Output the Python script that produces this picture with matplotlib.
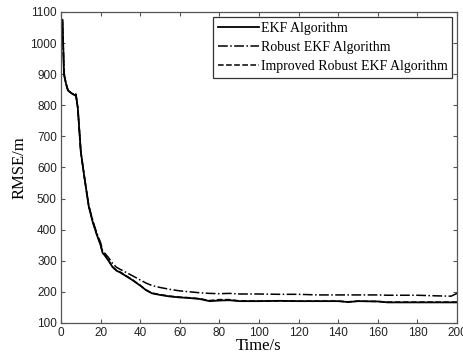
import numpy as np
import matplotlib.pyplot as plt

plt.rcParams['font.family'] = ['Liberation Sans', 'DejaVu Sans']

# time samples (s)
t = [0.7, 1, 1.5, 2.5, 3.5, 5, 7, 7.5, 8.5, 10, 12, 14, 16, 18, 20, 21, 22, 24,
     26, 28, 30, 33, 36, 40, 43, 46, 50, 55, 60, 65, 70, 75, 80, 85, 90, 100,
     110, 120, 130, 140, 145, 150, 160, 165, 170, 180, 190, 197, 200]

ekf = [1075, 1020, 900, 870, 848, 840, 832, 835, 790, 650, 560, 475, 425, 385,
       350, 325, 318, 300, 280, 268, 262, 250, 238, 220, 205, 195, 190, 185,
       182, 180, 177, 170, 172, 173, 170, 170, 171, 170, 170, 170, 167, 170,
       169, 166, 166, 166, 166, 166, 166]

robust = [1075, 1020, 900, 870, 848, 840, 832, 835, 790, 650, 560, 478, 430,
          390, 358, 332, 325, 310, 292, 279, 272, 262, 252, 238, 228, 220, 214,
          208, 203, 200, 197, 195, 194, 195, 193, 193, 192, 192, 190, 190, 190,
          190, 190, 189, 189, 189, 187, 186, 195]

improved = [1075, 1020, 900, 870, 848, 840, 832, 835, 790, 650, 560, 476, 426,
            386, 352, 326, 319, 301, 281, 269, 263, 251, 239, 221, 206, 196,
            191, 186, 183, 181, 178, 172, 175, 175, 171, 170, 171, 170, 170,
            170, 168, 170, 169, 167, 167, 167, 167, 167, 167]

fig = plt.figure(figsize=(4.64, 3.58), dpi=100)
ax = fig.add_axes([0.1315, 0.098, 0.8535, 0.8685])

ax.plot(t, ekf, 'k-', lw=1.3, label='EKF Algorithm')
ax.plot(t, robust, 'k-.', lw=1.1, label='Robust EKF Algorithm')
ax.plot(t, improved, 'k--', lw=1.1, label='Improved Robust EKF Algorithm')

ax.set_xlim(0, 200)
ax.set_ylim(100, 1100)
ax.set_xticks(np.arange(0, 201, 20))
ax.set_yticks(np.arange(100, 1101, 100))
ax.tick_params(direction='in', top=True, right=True, labelsize=8.5,
               labelcolor='#222222', color='#555555', length=3, pad=3)
for s in ax.spines.values():
    s.set_color('#555555')
    s.set_linewidth(0.9)

ax.set_xlabel('Time/s', family='Liberation Serif', fontsize=12, labelpad=-1)
ax.set_ylabel('RMSE/m', family='Liberation Serif', fontsize=12, labelpad=2)

leg = ax.legend(loc='upper right', prop={'family': 'Liberation Serif', 'size': 10},
                frameon=True, fancybox=False, edgecolor='black',
                handlelength=3.0, handletextpad=0.1, borderpad=0.35,
                labelspacing=0.45, borderaxespad=0.35)
leg.get_frame().set_linewidth(0.9)

fig.savefig('out.png', dpi=100)
